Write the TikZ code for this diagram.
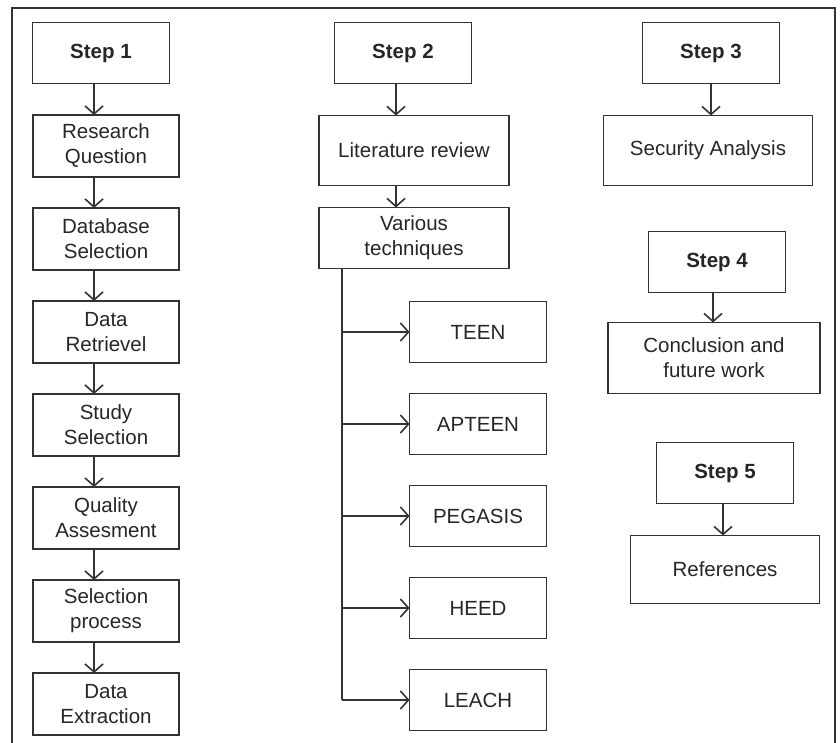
\documentclass[tikz,border=0pt]{standalone}
\usepackage{fontspec}
\setmainfont{Liberation Sans}
\usetikzlibrary{positioning}
\usetikzlibrary{arrows.meta}

\begin{document}
\begin{tikzpicture}[x=1pt,y=-1pt,->,>={Straight Barb[length=8pt,width=18pt]},line width=1.6pt,draw=black!80,text=black!85,node distance=31pt]
\tikzstyle{box}=[draw,-,rectangle,align=center,inner sep=0pt,outer sep=0pt,minimum width=146pt,minimum height=62pt,font=\fontsize{20.5}{25}\selectfont]
\tikzstyle{stepbox}=[box,minimum width=137pt,minimum height=61pt,font=\fontsize{20.5}{25}\selectfont\bfseries]
\tikzstyle{tech}=[box,minimum width=137pt,minimum height=61pt]
\useasboundingbox (0,0) rectangle (840,743);
\draw[-] (12,743) |- (835,8) -- (835,743);

% column 1
\node[stepbox]	(S1)	at (101,53)						{Step 1};
\node[box]	(RQ)	[below=31.5pt of S1, xshift=5pt]	{Research\\Question};
\node[box]	(DB)	[below= of RQ]				{Database\\Selection};
\node[box]	(DR)	[below= of DB]				{Data\\Retrievel};
\node[box]	(SS)	[below= of DR]				{Study\\Selection};
\node[box]	(QA)	[below= of SS]				{Quality\\Assesment};
\node[box]	(SP)	[below= of QA]				{Selection\\process};
\node[box]	(DE)	[below= of SP]				{Data\\Extraction};

% column 2
\node[stepbox]	(S2)	at (403,53)						{Step 2};
\node[box, minimum width=190pt, minimum height=70pt]	(LR)	[below=32pt of S2, xshift=11pt]	{Literature review};
\node[box, minimum width=190pt, minimum height=61pt]	(VT)	[below=22pt of LR]	{Various\\techniques};
\node[tech]	(TEEN)		[below=33pt of VT, xshift=64pt]	{TEEN};
\node[tech]	(APTEEN)	[below= of TEEN]		{APTEEN};
\node[tech]	(PEGASIS)	[below= of APTEEN]		{PEGASIS};
\node[tech]	(HEED)		[below= of PEGASIS]		{HEED};
\node[tech]	(LEACH)		[below= of HEED]		{LEACH};

% column 3
\node[stepbox]	(S3)	at (711,53)						{Step 3};
\node[box, minimum width=209pt, minimum height=70pt]	(SA)	[below=32pt of S3, xshift=-3pt]	{Security Analysis};
\node[stepbox]	(S4)	[below=46pt of SA, xshift=9pt]		{Step 4};
\node[box, minimum width=212pt, minimum height=71pt]	(CF)	[below=30pt of S4, xshift=-3pt]	{Conclusion and\\future work};
\node[stepbox]	(S5)	[below=49pt of CF, xshift=11pt]	{Step 5};
\node[box, minimum width=189pt, minimum height=68pt]	(RF)	[below=32pt of S5]		{References};

\coordinate (a1) at ([xshift=-7pt]S1.south);
\coordinate (a2) at ([xshift=-7pt]S2.south);
\coordinate (T)  at ([xshift=23pt]VT.south west);

\path(a1)			edge	(RQ.north -| a1)
	 (RQ.south -| a1)	edge	(DB.north -| a1)
	 (DB.south -| a1)	edge	(DR.north -| a1)
	 (DR.south -| a1)	edge	(SS.north -| a1)
	 (SS.south -| a1)	edge	(QA.north -| a1)
	 (QA.south -| a1)	edge	(SP.north -| a1)
	 (SP.south -| a1)	edge	(DE.north -| a1)
	 (a2)				edge	(LR.north -| a2)
	 (LR.south -| a2)	edge	(VT.north -| a2)
	 (T |- TEEN.west)	edge	(TEEN.west)
	 (T |- APTEEN.west)	edge	(APTEEN.west)
	 (T |- PEGASIS.west)	edge	(PEGASIS.west)
	 (T |- HEED.west)	edge	(HEED.west)
	 (T |- LEACH.west)	edge	(LEACH.west)
	 (S3.south)			edge	(S3.south |- SA.north)
	 ([xshift=-4pt]S4.south)	edge	([xshift=-4pt]S4.south |- CF.north)
	 ([xshift=-2pt]S5.south)	edge	([xshift=-2pt]S5.south |- RF.north);
\draw[-] (T) -- (T |- LEACH.west);
\end{tikzpicture}
\end{document}
